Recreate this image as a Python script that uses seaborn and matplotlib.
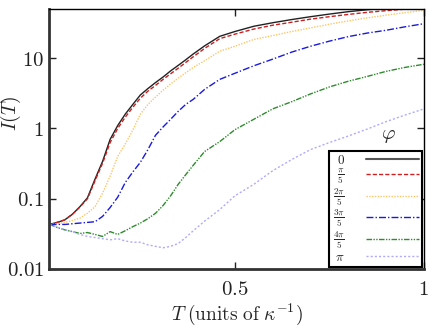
import numpy as np
import pandas as pd
import seaborn as sns
import matplotlib.pyplot as plt
from matplotlib.lines import Line2D

# time grid (units of 1/kappa)
T = [0.01, 0.03, 0.05, 0.07, 0.09, 0.11, 0.13, 0.15, 0.17, 0.19, 0.21, 0.23, 0.25,
     0.27, 0.29, 0.31, 0.33, 0.35, 0.37, 0.39, 0.42, 0.46, 0.50, 0.55, 0.60, 0.65,
     0.70, 0.75, 0.80, 0.85, 0.90, 0.95, 1.00]

# I(T) for each phase
I_0 = [0.043, 0.046, 0.05, 0.06, 0.077, 0.103, 0.19, 0.34, 0.7, 1.1, 1.6, 2.2, 3.0,
       3.7, 4.5, 5.4, 6.6, 7.9, 9.5, 11.5, 15, 20.5, 24, 28.5, 32, 35.5,
       39, 42.5, 46, 49, 51.5, 54, 56]
I_1 = [0.043, 0.046, 0.05, 0.06, 0.076, 0.1, 0.18, 0.32, 0.63, 1.0, 1.45, 2.0, 2.7,
       3.4, 4.1, 5.0, 6.0, 7.2, 8.7, 10.5, 13.8, 19, 22, 26, 29.5, 32.5,
       36, 39, 42, 45, 47.5, 50, 52]
I_2 = [0.043, 0.044, 0.046, 0.049, 0.053, 0.062, 0.077, 0.12, 0.21, 0.4, 0.6, 0.95, 1.6,
       2.2, 2.8, 3.5, 4.3, 5.2, 6.2, 7.4, 9.2, 12.6, 14.8, 18.5, 21, 24,
       27, 30.5, 34, 37.5, 41, 44.5, 48]
I_3 = [0.043, 0.043, 0.043, 0.044, 0.045, 0.046, 0.047, 0.056, 0.075, 0.105, 0.17, 0.24, 0.33,
       0.5, 0.8, 1.05, 1.35, 1.75, 2.2, 2.6, 3.6, 5.0, 6.1, 7.8, 9.7, 12.2,
       14.8, 17.5, 20.3, 22.8, 25, 28, 31]
I_4 = [0.043, 0.039, 0.036, 0.034, 0.032, 0.033, 0.031, 0.029, 0.034, 0.031, 0.035, 0.04, 0.045,
       0.052, 0.062, 0.08, 0.11, 0.16, 0.22, 0.3, 0.47, 0.65, 0.96, 1.35, 1.9, 2.4,
       3.1, 3.9, 4.7, 5.5, 6.5, 7.4, 8.2]
I_5 = [0.043, 0.039, 0.036, 0.034, 0.031, 0.029, 0.028, 0.027, 0.026, 0.027, 0.025, 0.024, 0.024,
       0.022, 0.021, 0.02, 0.021, 0.023, 0.028, 0.035, 0.048, 0.07, 0.11, 0.16, 0.25, 0.36,
       0.5, 0.63, 0.78, 0.98, 1.25, 1.55, 1.9]

labels = [r'$0$', r'$\frac{\pi}{5}$', r'$\frac{2\pi}{5}$', r'$\frac{3\pi}{5}$',
          r'$\frac{4\pi}{5}$', r'$\pi$']
series = [I_0, I_1, I_2, I_3, I_4, I_5]
colors = ['#222222', '#cc1f1f', '#ffc565', '#1a1add', '#2e8b2e', '#b0aaff']
styles = ['-', (0, (3, 1.5)), (0, (1, 1)), (0, (5, 1.5, 1, 1.5)),
          (0, (4, 1, 1, 1, 1, 1)), (0, (1.5, 1.5))]

sns.set_style('ticks')
plt.rcParams['mathtext.fontset'] = 'cm'
plt.rcParams['font.family'] = ['DejaVu Serif']

fig = plt.figure(figsize=(4.29, 3.26), dpi=100)
ax = fig.add_axes([0.114, 0.175, 0.874, 0.797])

handles = []
for vals, lab, c, ls in zip(series, labels, colors, styles):
    df = pd.DataFrame({'T': T, 'I': vals})
    sns.lineplot(data=df, x='T', y='I', ax=ax, color=c, linestyle=ls, lw=1.0)
    handles.append(Line2D([], [], color=c, linestyle=ls, lw=1.0))
handles[0].set_color('#555555')
handles[0].set_linewidth(1.5)

ax.set_yscale('log')
ax.set_xlim(0.008, 1.0)
ax.set_ylim(0.01, 50)
ax.set_xticks([0.5, 1.0])
ax.set_xticklabels([r'$0.5$', r'$1$'])
ax.set_yticks([0.01, 0.1, 1, 10])
ax.set_yticklabels([r'$0.01$', r'$0.1$', r'$1$', r'$10$'])
ax.minorticks_off()
ax.tick_params(direction='in', length=5, width=1, labelsize=15, top=True, right=True,
               colors='#222222')
ax.tick_params(axis='x', pad=8)

ax.set_xlabel(r'$T\;(\mathrm{units\ of\ }\kappa^{-1})$', fontsize=14, labelpad=2)
ax.set_ylabel(r'$I(T)$', fontsize=14)
ax.yaxis.set_label_coords(-0.07, 0.6)

for s in ['left', 'bottom']:
    ax.spines[s].set_linewidth(2.0)
    ax.spines[s].set_color('#333333')
for s in ['top', 'right']:
    ax.spines[s].set_linewidth(1.0)
    ax.spines[s].set_color('black')

leg = ax.legend(handles, labels, loc='lower right', markerfirst=False, fancybox=False,
                edgecolor='black', fontsize=9.5, handlelength=4.0, labelspacing=0.0,
                borderpad=0.25, borderaxespad=0.15, handletextpad=1.6, framealpha=1)
leg.get_frame().set_linewidth(1.5)
ax.text(0.905, 0.515, r'$\varphi$', transform=ax.transAxes, fontsize=15,
        ha='center', va='center')

fig.savefig('out.png', dpi=100)
